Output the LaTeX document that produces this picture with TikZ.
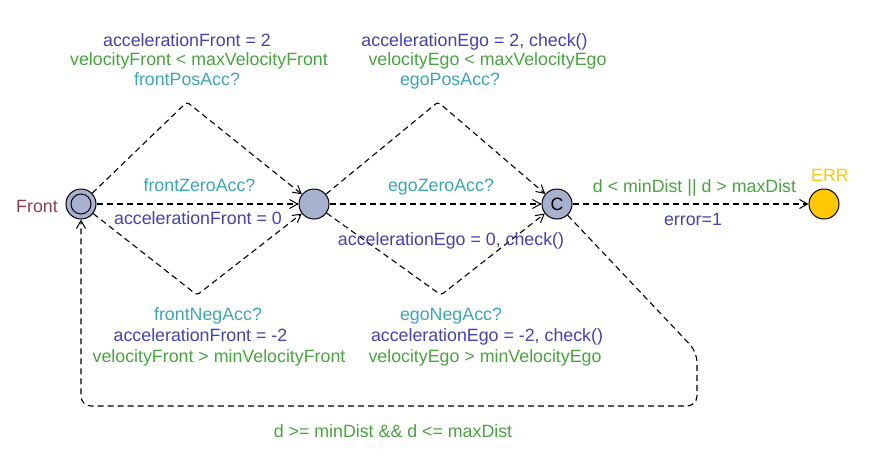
\documentclass[tikz,border=0pt]{standalone}
\usepackage{fontspec}
\setmainfont{Liberation Sans}
\usetikzlibrary{arrows.meta}
\definecolor{asgblue}{RGB}{70,64,180}
\definecolor{grdgreen}{RGB}{70,165,60}
\definecolor{synccyan}{RGB}{60,165,180}
\definecolor{locname}{RGB}{150,60,80}
\definecolor{errfill}{RGB}{255,200,0}
\definecolor{locfill}{RGB}{168,176,208}
\tikzset{
  loc/.style={circle, draw=black, line width=1pt, fill=locfill, minimum size=30pt, inner sep=0pt},
  errloc/.style={loc, fill=errfill},
  edge/.style={draw=black, line width=1.1pt, dash pattern=on 6pt off 4pt, -{Straight Barb[length=8pt,width=9pt,line width=1pt]}},
  lbl/.style={inner sep=0pt, text height=12.8pt, text depth=0pt, font=\fontsize{17.8}{21}\selectfont},
  asg/.style={lbl, text=asgblue},
  grd/.style={lbl, text=grdgreen},
  syn/.style={lbl, text=synccyan},
}
\begin{document}
\begin{tikzpicture}[x=1pt,y=-1pt]
\useasboundingbox (0,0) rectangle (869,466);
% locations
\node[loc] (F) at (81,204) {};
\draw[line width=1pt] (F.center) circle (10pt);
\node[loc] (M) at (314,204) {};
\node[loc, font=\fontsize{17.8}{21}\selectfont] (C) at (557,204) {C};
\node[errloc] (E) at (824,204) {};
\node[lbl, text=locname] (nF) at (37,206) {Front};
\node[lbl, text=errfill] (nE) at (830,175) {ERR};
% bend points
\coordinate (fu) at (187,102);
\coordinate (fl) at (197,295);
\coordinate (eu) at (438,102);
\coordinate (el) at (441,295);
\coordinate (r1) at (697,352);
\coordinate (r2) at (697,406);
\coordinate (r3) at (81,406);
% edges
\draw[edge, rounded corners=3pt] (F) -- (fu) -- (M);
\draw[edge] (F) -- (M);
\draw[edge, rounded corners=3pt] (F) -- (fl) -- (M);
\draw[edge, rounded corners=3pt] (M) -- (eu) -- (C);
\draw[edge] (M) -- (C);
\draw[edge, rounded corners=3pt] (M) -- (el) -- (C);
\draw[edge] (C) -- (E);
\draw[edge, rounded corners=10pt] (C) -- (r1) -- (r2) -- (r3) -- (F);
% labels: Front -> middle
\node[asg] (l1) at (187,40) {accelerationFront = 2};
\node[grd] (l2) at (199,59.5) {velocityFront < maxVelocityFront};
\node[syn] (l3) at (187,79) {frontPosAcc?};
\node[syn] (l4) at (199.5,185) {frontZeroAcc?};
\node[asg] (l5) at (198,218) {accelerationFront = 0};
\node[syn] (l6) at (208,314) {frontNegAcc?};
\node[asg] (l7) at (200.5,335) {accelerationFront = -2};
\node[grd] (l8) at (219,356) {velocityFront > minVelocityFront};
% labels: middle -> C
\node[asg] (m1) at (474.5,40) {accelerationEgo = 2, check()};
\node[grd] (m2) at (487.5,59.5) {velocityEgo < maxVelocityEgo};
\node[syn] (m3) at (450,79) {egoPosAcc?};
\node[syn] (m4) at (441,185) {egoZeroAcc?};
\node[asg] (m5) at (451,239) {accelerationEgo = 0, check()};
\node[syn] (m6) at (451,314) {egoNegAcc?};
\node[asg] (m7) at (487,335) {accelerationEgo = -2, check()};
\node[grd] (m8) at (485,356) {velocityEgo > minVelocityEgo};
% labels: C -> ERR and return
\node[grd] (c1) at (694.5,186) {d < minDist || d > maxDist};
\node[asg] (c2) at (693,219) {error=1};
\node[grd] (c3) at (393,431) {d >= minDist \&\& d <= maxDist};
\end{tikzpicture}
\end{document}
